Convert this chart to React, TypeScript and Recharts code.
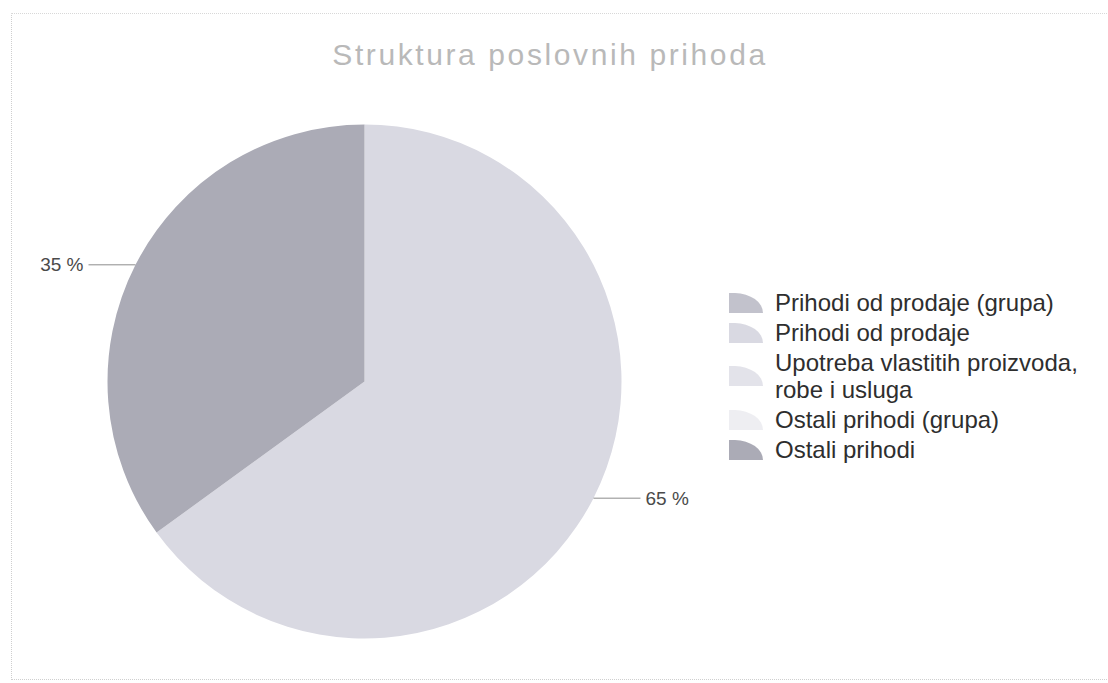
import React from 'react';
import { PieChart, Pie, Cell, Legend } from 'recharts';

const chartTitle = 'Struktura poslovnih prihoda';
const categories = [
  'Prihodi od prodaje (grupa)',
  'Prihodi od prodaje',
  'Upotreba vlastitih proizvoda, robe i usluga',
  'Ostali prihodi (grupa)',
  'Ostali prihodi',
];
const legendLines = [
  ['Prihodi od prodaje (grupa)'],
  ['Prihodi od prodaje'],
  ['Upotreba vlastitih proizvoda,', 'robe i usluga'],
  ['Ostali prihodi (grupa)'],
  ['Ostali prihodi'],
];
const shares = [0, 65, 0, 0, 35];
const sliceColors = ['#c2c2cc', '#d9d9e2', '#e3e3ea', '#eeeef2', '#ababb6'];

const data = categories.map((name, i) => ({ name, value: shares[i] }));

const RADIAN = Math.PI / 180;
const FONT = '"Liberation Sans", Arial, sans-serif';

const renderLabel = (props: any) => {
  const { cx, cy, midAngle, outerRadius, value } = props;
  if (!value) return null;
  const cos = Math.cos(-midAngle * RADIAN);
  const sin = Math.sin(-midAngle * RADIAN);
  const sx = cx + outerRadius * cos;
  const sy = cy + outerRadius * sin;
  const dir = cos >= 0 ? 1 : -1;
  const ex = sx + dir * 47;
  return (
    <g>
      <line x1={sx} y1={sy} x2={ex} y2={sy} stroke="#8c8c8c" strokeWidth={1} />
      <text
        x={ex + dir * 5}
        y={sy}
        textAnchor={dir > 0 ? 'start' : 'end'}
        dominantBaseline="central"
        fill="#4a4a4a"
        fontSize={19}
        fontFamily={FONT}
      >
        {`${value} %`}
      </text>
    </g>
  );
};

const WedgeIcon = ({ color }: { color: string }) => (
  <svg width={36} height={22} style={{ display: 'block', flex: '0 0 auto' }}>
    <path d="M1,21 L1,1 L7,1 A29,20 0 0 1 35,21 Z" fill={color} />
  </svg>
);

const renderLegend = () => (
  <div style={{ fontFamily: FONT, fontSize: 24, color: '#2e2e2e' }}>
    {legendLines.map((lines, i) => (
      <div
        key={categories[i]}
        style={{ display: 'flex', alignItems: 'center', marginBottom: 3 }}
      >
        <WedgeIcon color={sliceColors[i]} />
        <div style={{ marginLeft: 11, lineHeight: '27px', whiteSpace: 'nowrap' }}>
          {lines.map((l) => (
            <div key={l}>{l}</div>
          ))}
        </div>
      </div>
    ))}
  </div>
);

export default function App() {
  return (
    <div
      style={{
        position: 'absolute',
        left: 0,
        top: 0,
        width: 1108,
        height: 683,
        background: '#ffffff',
        overflow: 'hidden',
      }}
    >
      <div
        style={{
          position: 'absolute',
          left: 11,
          top: 13,
          width: 1108,
          height: 667,
          borderLeft: '1px dotted #cfcfcf',
          borderTop: '1px dotted #d8d8d8',
          borderBottom: '1px dotted #cfcfcf',
          boxSizing: 'border-box',
        }}
      />
      <div
        style={{
          position: 'absolute',
          left: 0,
          top: 40,
          width: 1100,
          textAlign: 'center',
          fontFamily: FONT,
          fontSize: 30,
          lineHeight: '30px',
          letterSpacing: 2.6,
          color: '#b9b9b9',
          whiteSpace: 'nowrap',
        }}
      >
        {chartTitle}
      </div>
      <PieChart width={1108} height={683} margin={{ top: 0, right: 0, bottom: 0, left: 0 }}>
        <Pie
          data={data}
          dataKey="value"
          nameKey="name"
          cx={364.5}
          cy={381.5}
          outerRadius={257}
          startAngle={90}
          endAngle={-270}
          stroke="none"
          label={renderLabel}
          labelLine={false}
          isAnimationActive={false}
        >
          {data.map((d, i) => (
            <Cell key={d.name} fill={sliceColors[i]} stroke="none" />
          ))}
        </Pie>
        <Legend
          content={renderLegend}
          wrapperStyle={{ position: 'absolute', left: 728, top: 289, width: 370, bottom: 'auto', right: 'auto' }}
        />
      </PieChart>
    </div>
  );
}
